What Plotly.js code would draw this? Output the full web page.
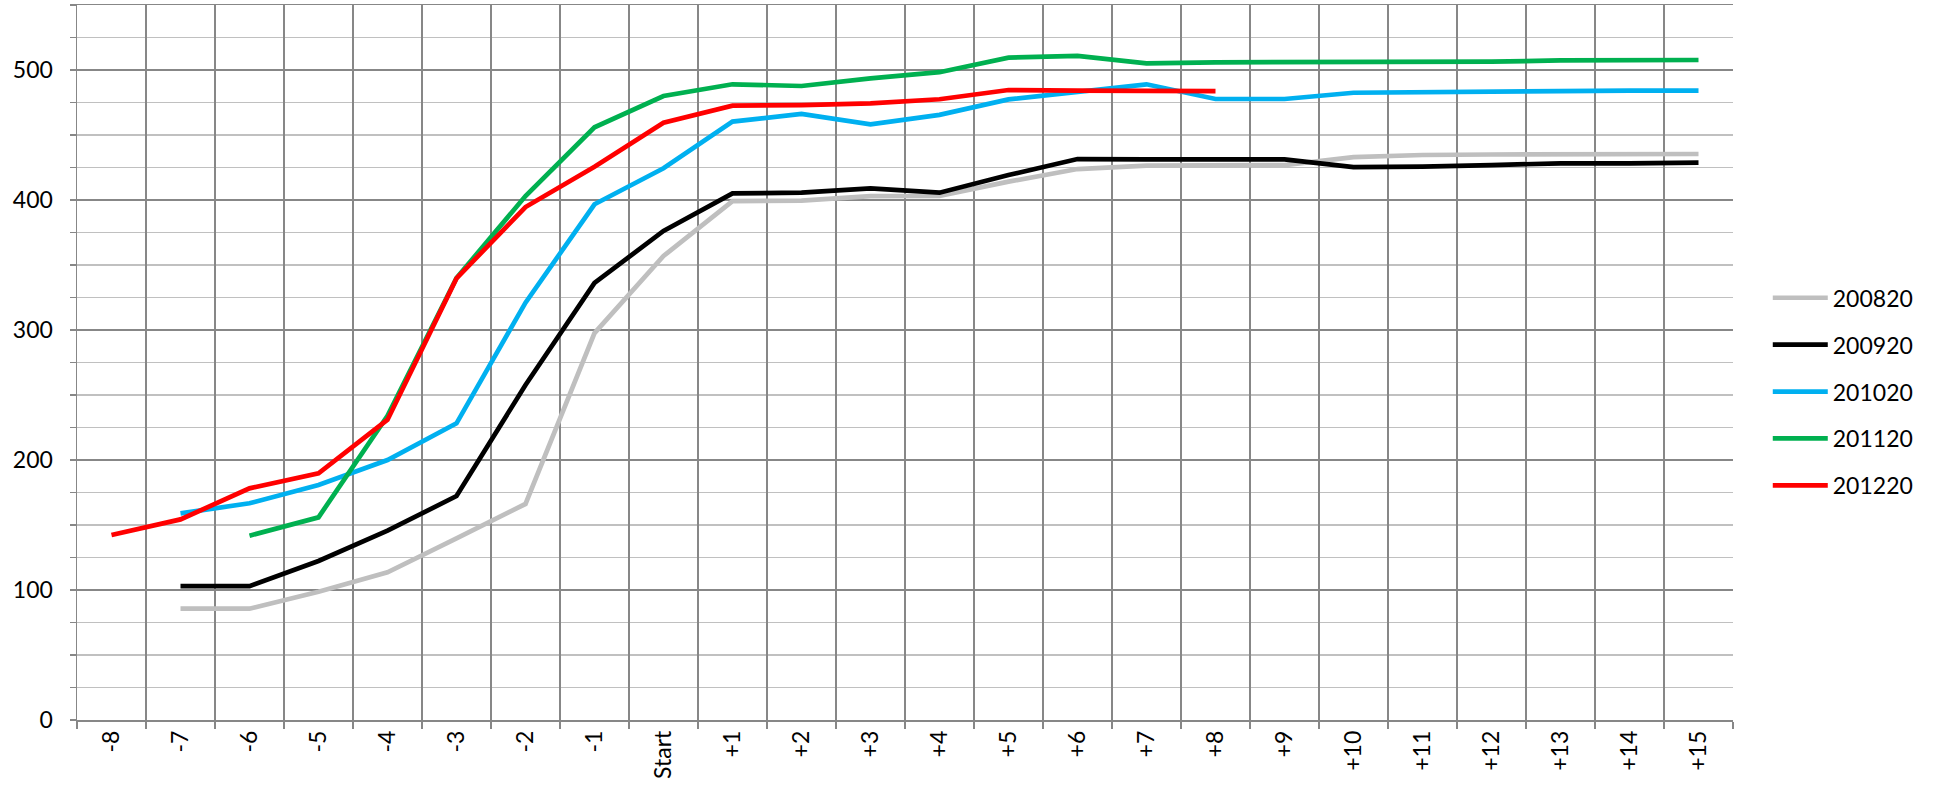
<!DOCTYPE html>
<html>
<head>
<meta charset="utf-8">
<script src="https://cdn.plot.ly/plotly-3.0.1.min.js"></script>
<style>html,body{margin:0;padding:0;background:#fff;}#chart{width:1935px;height:803px;}</style>
</head>
<body>
<div id="chart"></div>
<script>
const categories = ["-8","-7","-6","-5","-4","-3","-2","-1","Start","+1","+2","+3","+4","+5","+6","+7","+8","+9","+10","+11","+12","+13","+14","+15"];
const seriesNames = ["200820","200920","201020","201120","201220"];
const s200820 = [null,85.6,85.6,98.7,113.6,139.7,166.2,297.6,356.9,399.2,399.5,403,403.2,414.1,423.8,426.4,426.4,426.9,433,434.6,435,435.4,435.4,435.4];
const s200920 = [null,103,103,122.3,145.6,172.3,257.7,336.2,376.2,405.1,405.6,409,405.6,419.2,431.5,431.3,431.3,431.3,425.3,425.6,426.9,428.2,428.2,428.7];
const s201020 = [null,159,166.7,180.8,200,228.2,321,396.7,424.4,460.3,466.2,458.2,465.5,477.4,483.3,489,477.7,477.7,482.5,483,483.8,484.1,484.1,484.1];
const s201120 = [null,null,141.8,155.9,234,340,403,455.9,480,489,487.7,493.6,498.3,509.5,510.8,505.1,505.9,505.9,506,506,506.4,507.4,507.4,507.7];
const s201220 = [142.3,154.3,178.2,189.7,231,339.7,394.6,425.6,459.5,472.6,473,474.4,477.5,484.6,484.1,483.8,483.8,null,null,null,null,null,null,null];
const colors = ["#BFBFBF","#000000","#00B0F0","#00B050","#FF0000"];
const allSeries = [s200820,s200920,s201020,s201120,s201220];

const traces = allSeries.map((vals,i)=>({
  type:"scatter", mode:"lines", x:categories, y:vals, name:seriesNames[i],
  legendgroup:"g"+i, connectgaps:false,
  line:{color:colors[i], width:4.7}
}));

const gridDark = "#878787";
const gridLight = "#C0C0C0";
const fontFam = "Lato, 'Open Sans', sans-serif";

const layout = {
  width:1935, height:803,
  margin:{l:77, r:202, t:5, b:83},
  paper_bgcolor:"#fff", plot_bgcolor:"#fff",
  font:{family:fontFam, size:23, color:"#000"},
  showlegend:true,
  legend:{x:1.021, xanchor:"left", y:0.459, yanchor:"middle", font:{family:fontFam, size:23, color:"#000"},
          traceorder:"grouped", tracegroupgap:14, itemwidth:55, bgcolor:"rgba(0,0,0,0)"},
  xaxis:{type:"category", categoryorder:"array", categoryarray:categories, range:[-0.5,23.5],
         tickson:"boundaries", ticks:"outside", ticklen:7, tickcolor:gridDark, tickwidth:1.5,
         showgrid:true, gridcolor:gridDark, gridwidth:1.5, tickangle:-90,
         showline:true, linecolor:gridDark, linewidth:1.5, mirror:true, zeroline:false,
         tickfont:{family:fontFam, size:23, color:"#000"}, fixedrange:true},
  yaxis:{range:[0,550], tick0:0, dtick:100, ticks:"outside", ticklen:6, tickcolor:gridDark, tickwidth:1.5,
         showgrid:true, gridcolor:gridDark, gridwidth:1.5, zeroline:false,
         showline:true, linecolor:gridDark, linewidth:1.5,
         minor:{tick0:0, dtick:25, showgrid:true, gridcolor:gridLight, gridwidth:1.5, ticks:"outside", ticklen:6, tickcolor:gridDark, tickwidth:1.5},
         ticklabelstandoff:12,
         tickfont:{family:fontFam, size:23, color:"#000"}, fixedrange:true}
};
Plotly.newPlot("chart", traces, layout, {displayModeBar:false, staticPlot:true});
</script>
</body>
</html>
